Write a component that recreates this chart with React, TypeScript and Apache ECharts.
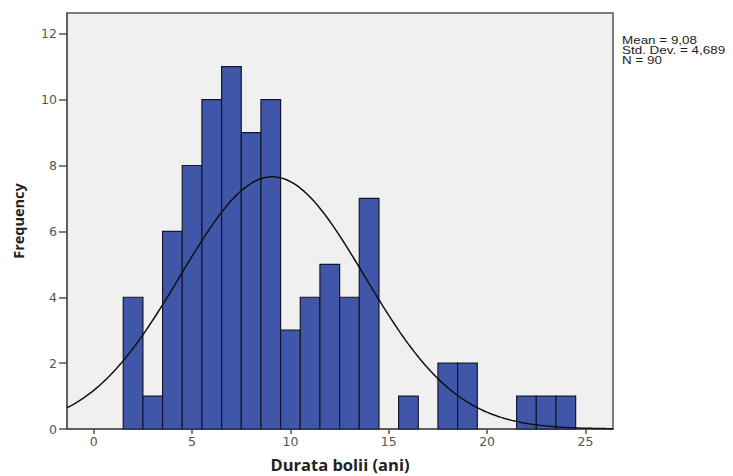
import React, { useEffect, useRef } from "react";
import * as echarts from "echarts";

const binCenters = [2, 3, 4, 5, 6, 7, 8, 9, 10, 11, 12, 13, 14, 15, 16, 17, 18, 19, 20, 21, 22, 23, 24];
const frequencies = [4, 1, 6, 8, 10, 11, 9, 10, 3, 4, 5, 4, 7, 0, 1, 0, 2, 2, 0, 0, 1, 1, 1];
const xTicks = [0, 5, 10, 15, 20, 25];
const yTicks = [0, 2, 4, 6, 8, 10, 12];
const MEAN = 9.08;
const SD = 4.689;
const N = 90;
const BIN_WIDTH = 1;
const statsLines = ["Mean = 9,08", "Std. Dev. = 4,689", "N = 90"];

const X_MIN = -1.36;
const X_MAX = 26.4;

function normalCurve(): number[][] {
  const pts: number[][] = [];
  const steps = 200;
  for (let i = 0; i <= steps; i++) {
    const x = X_MIN + ((X_MAX - X_MIN) * i) / steps;
    const z = (x - MEAN) / SD;
    const y = (N * BIN_WIDTH) / (SD * Math.sqrt(2 * Math.PI)) * Math.exp(-0.5 * z * z);
    pts.push([x, y]);
  }
  return pts;
}

export default function App() {
  const ref = useRef<HTMLDivElement>(null);
  useEffect(() => {
    if (!ref.current) return;
    const chart = echarts.init(ref.current, undefined, { renderer: "svg" });
    const barData = binCenters.map((c, i) => [c, frequencies[i]]);
    chart.setOption({
      animation: false,
      backgroundColor: "#ffffff",
      grid: {
        left: 67,
        right: 120,
        top: 13,
        bottom: 47,
        show: true,
        outerBoundsMode: "none",
        containLabel: false,
        backgroundColor: "#f0f0f0",
        borderColor: "#555555",
        borderWidth: 1.5,
      },
      xAxis: {
        type: "value",
        min: X_MIN,
        max: X_MAX,
        name: "Durata bolii (ani)",
        nameLocation: "middle",
        nameGap: 27,
        nameTextStyle: { fontFamily: "Open Sans", fontWeight: "bold", fontSize: 16.5, color: "#222" },
        axisLine: { show: true, onZero: false, lineStyle: { color: "#555", width: 1.5 } },
        axisTick: { show: true, length: 5, customValues: xTicks, lineStyle: { color: "#555", width: 1.5 } },
        axisLabel: { customValues: xTicks, color: "#555", fontFamily: "DejaVu Sans", fontSize: 12.5, margin: 6 },
        splitLine: { show: false },
      },
      yAxis: {
        type: "value",
        min: 0,
        max: 12.63,
        name: "Frequency",
        nameLocation: "middle",
        nameGap: 41,
        nameRotate: 90,
        nameTextStyle: { fontFamily: "Open Sans", fontWeight: "bold", fontSize: 14.5, color: "#222" },
        axisLine: { show: true, onZero: false, lineStyle: { color: "#555", width: 1.5 } },
        axisTick: { show: true, length: 8, customValues: yTicks, lineStyle: { color: "#555", width: 1.5 } },
        axisLabel: { customValues: yTicks, color: "#555", fontFamily: "DejaVu Sans", fontSize: 12.5, margin: 10 },
        splitLine: { show: false },
      },
      series: [
        {
          type: "custom",
          data: barData,
          renderItem: (params: any, api: any) => {
            const c = api.value(0);
            const v = api.value(1);
            if (!v) return null;
            const p0 = api.coord([c - BIN_WIDTH / 2, v]);
            const p1 = api.coord([c + BIN_WIDTH / 2, 0]);
            return {
              type: "rect",
              shape: { x: p0[0], y: p0[1], width: p1[0] - p0[0], height: p1[1] - p0[1] },
              style: { fill: "#3f56a9", stroke: "#14182e", lineWidth: 1.2 },
            };
          },
          encode: { x: 0, y: 1 },
          z: 2,
        },
        {
          type: "line",
          data: normalCurve(),
          showSymbol: false,
          symbol: "none",
          lineStyle: { color: "#111", width: 1.5 },
          z: 3,
        },
      ],
      graphic: statsLines.map((t, i) => ({
        type: "text",
        x: 622,
        y: 35 + i * 10,
        scaleX: 1.28,
        style: { text: t, fill: "#222", font: "10.5px 'Liberation Sans'", textVerticalAlign: "top" },
      })),
    });
    return () => chart.dispose();
  }, []);
  return (
    <div
      ref={ref}
      style={{ position: "fixed", left: 0, top: 0, width: 733, height: 476 }}
    />
  );
}
